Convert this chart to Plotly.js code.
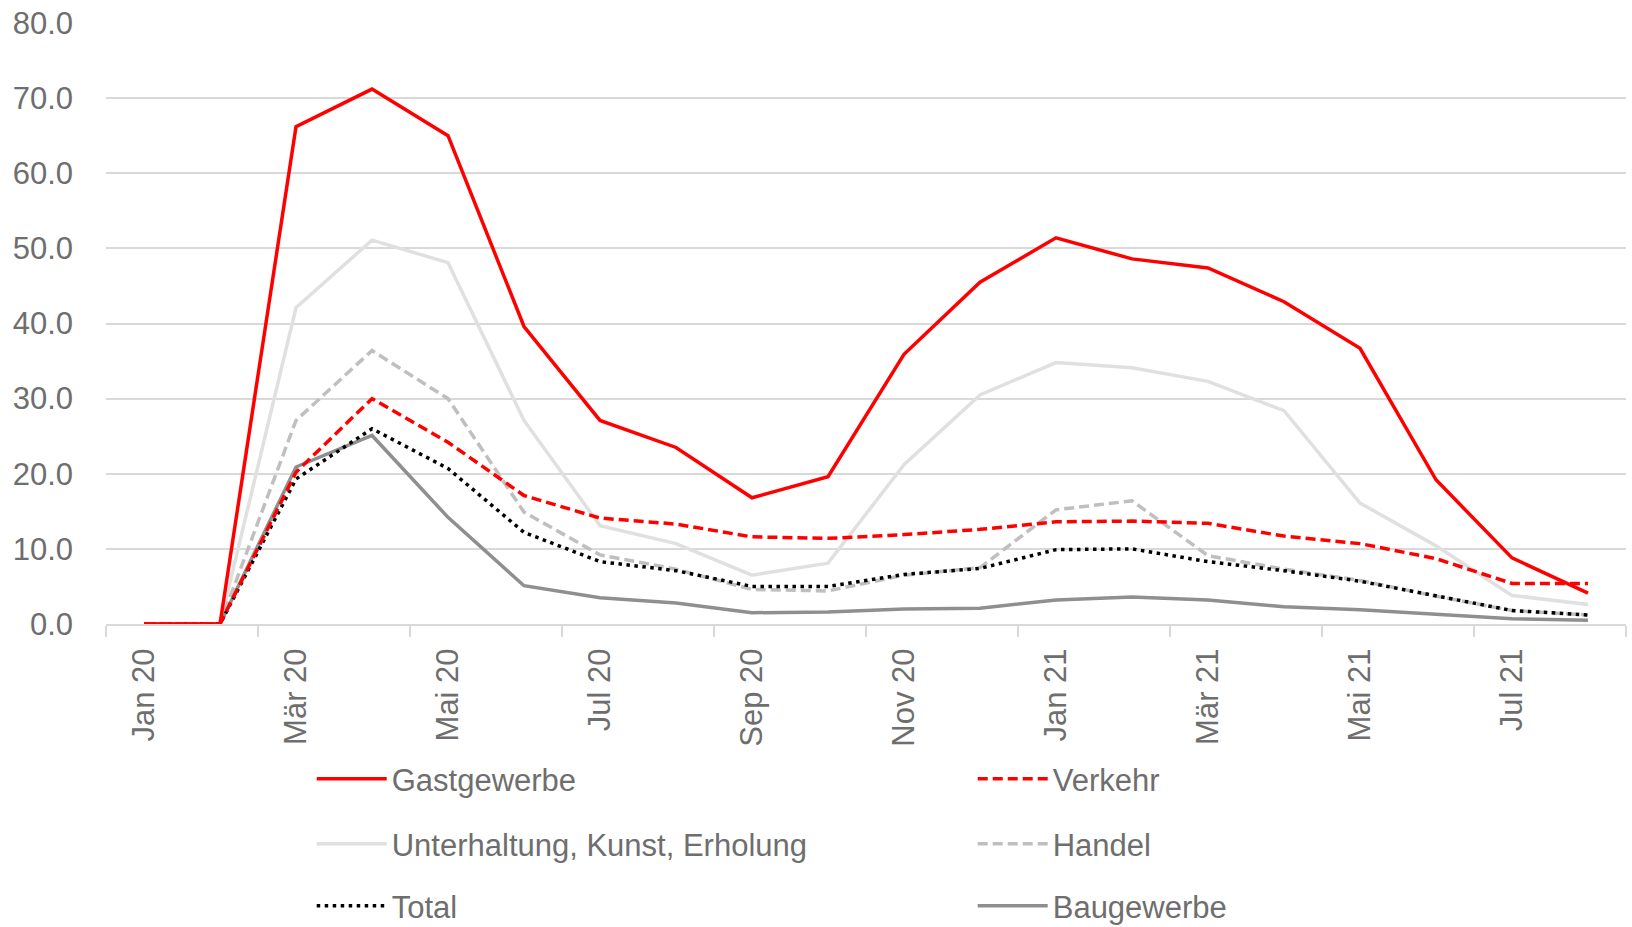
<!DOCTYPE html>
<html>
<head>
<meta charset="utf-8">
<script src="https://cdn.plot.ly/plotly-3.0.1.min.js"></script>
<style>html,body{margin:0;padding:0;background:#fff;}#chart{width:1632px;height:927px;}</style>
</head>
<body>
<div id="chart"></div>
<script>
const months = ['Jan 20','Feb 20','Mär 20','Apr 20','Mai 20','Jun 20','Jul 20','Aug 20','Sep 20','Okt 20','Nov 20','Dez 20',
                'Jan 21','Feb 21','Mär 21','Apr 21','Mai 21','Jun 21','Jul 21','Aug 21'];
const gastgewerbe  = [0,0,66.2,71.2,65.0,39.6,27.1,23.5,16.8,19.6,35.9,45.5,51.4,48.6,47.4,42.9,36.7,19.2,8.8,4.1];
const verkehr      = [0,0,20.2,30.0,24.2,17.1,14.1,13.3,11.6,11.4,11.9,12.6,13.6,13.7,13.4,11.7,10.7,8.7,5.4,5.4];
const unterhaltung = [0,0,42.1,51.1,48.1,27.1,13.1,10.7,6.5,8.1,21.2,30.5,34.8,34.1,32.3,28.4,16.1,10.4,3.8,2.6];
const handel       = [0,0,27.1,36.4,30.0,14.9,9.2,7.3,4.6,4.4,6.5,7.5,15.2,16.4,9.1,7.3,5.8,3.7,1.8,1.2];
const total        = [0,0,19.3,26.0,20.7,12.2,8.3,7.1,5.0,5.0,6.6,7.4,9.9,10.0,8.3,7.1,5.7,3.7,1.8,1.2];
const baugewerbe   = [0,0,20.9,25.1,14.2,5.1,3.5,2.8,1.5,1.6,2.0,2.1,3.2,3.6,3.2,2.3,1.9,1.3,0.7,0.5];

const FONT = '"Liberation Sans", Arial, sans-serif';
const FS = 31;
const TXT = '#6e6e6e';

function tr(name, y, color, dash, legend, rank) {
  return {x: months, y: y, name: name, type: 'scatter', mode: 'lines',
          line: {color: color, width: 3.5, dash: dash}, legend: legend, legendrank: rank,
          hoverinfo: 'x+y+name'};
}
// drawing order: back to front
const data = [
  tr('Unterhaltung, Kunst, Erholung', unterhaltung, '#e0e0e0', 'solid', 'legend2', 1),
  tr('Handel', handel, '#bfbfbf', '10px,5px', 'legend2', 2),
  tr('Baugewerbe', baugewerbe, '#8f8f8f', 'solid', 'legend3', 2),
  tr('Total', total, '#000000', '3.5px,4.5px', 'legend3', 1),
  tr('Verkehr', verkehr, '#ff0000', '10px,5px', 'legend', 2),
  tr('Gastgewerbe', gastgewerbe, '#ff0000', 'solid', 'legend', 1)
];

function leg(yPos) {
  return {orientation: 'h', x: 0.191, xanchor: 'left', y: yPos, yanchor: 'middle',
          xref: 'container', yref: 'container',
          font: {family: FONT, size: FS, color: TXT}, bgcolor: 'rgba(0,0,0,0)',
          itemwidth: 70, entrywidth: 576, entrywidthmode: 'pixels', traceorder: 'normal',
          itemclick: false, itemdoubleclick: false};
}

const layout = {
  width: 1632, height: 927,
  margin: {l: 106, r: 6, t: 23, b: 303},
  paper_bgcolor: '#ffffff', plot_bgcolor: '#ffffff',
  font: {family: FONT, size: FS, color: TXT},
  showlegend: true,
  xaxis: {type: 'category', range: [-0.5, 19.5], dtick: 2, tickangle: -90,
          tickson: 'boundaries', ticks: 'outside', ticklen: 11, tickcolor: '#d9d9d9', tickwidth: 2,
          showline: true, linecolor: '#d9d9d9', linewidth: 2, showgrid: false, zeroline: false,
          ticklabelstandoff: 10,
          tickfont: {family: FONT, size: FS, color: TXT}, fixedrange: true},
  yaxis: {range: [0, 80], dtick: 10, tick0: 0, tickformat: '.1f', showgrid: true, gridcolor: '#d9d9d9', gridwidth: 2,
          zeroline: false, showline: false, ticks: '', ticklabelstandoff: 32,
          tickfont: {family: FONT, size: FS, color: TXT}, fixedrange: true},
  legend: leg(1 - 779/927),
  legend2: leg(1 - 844/927),
  legend3: leg(1 - 906/927)
};

Plotly.newPlot('chart', data, layout, {displayModeBar: false, staticPlot: true});
</script>
</body>
</html>
